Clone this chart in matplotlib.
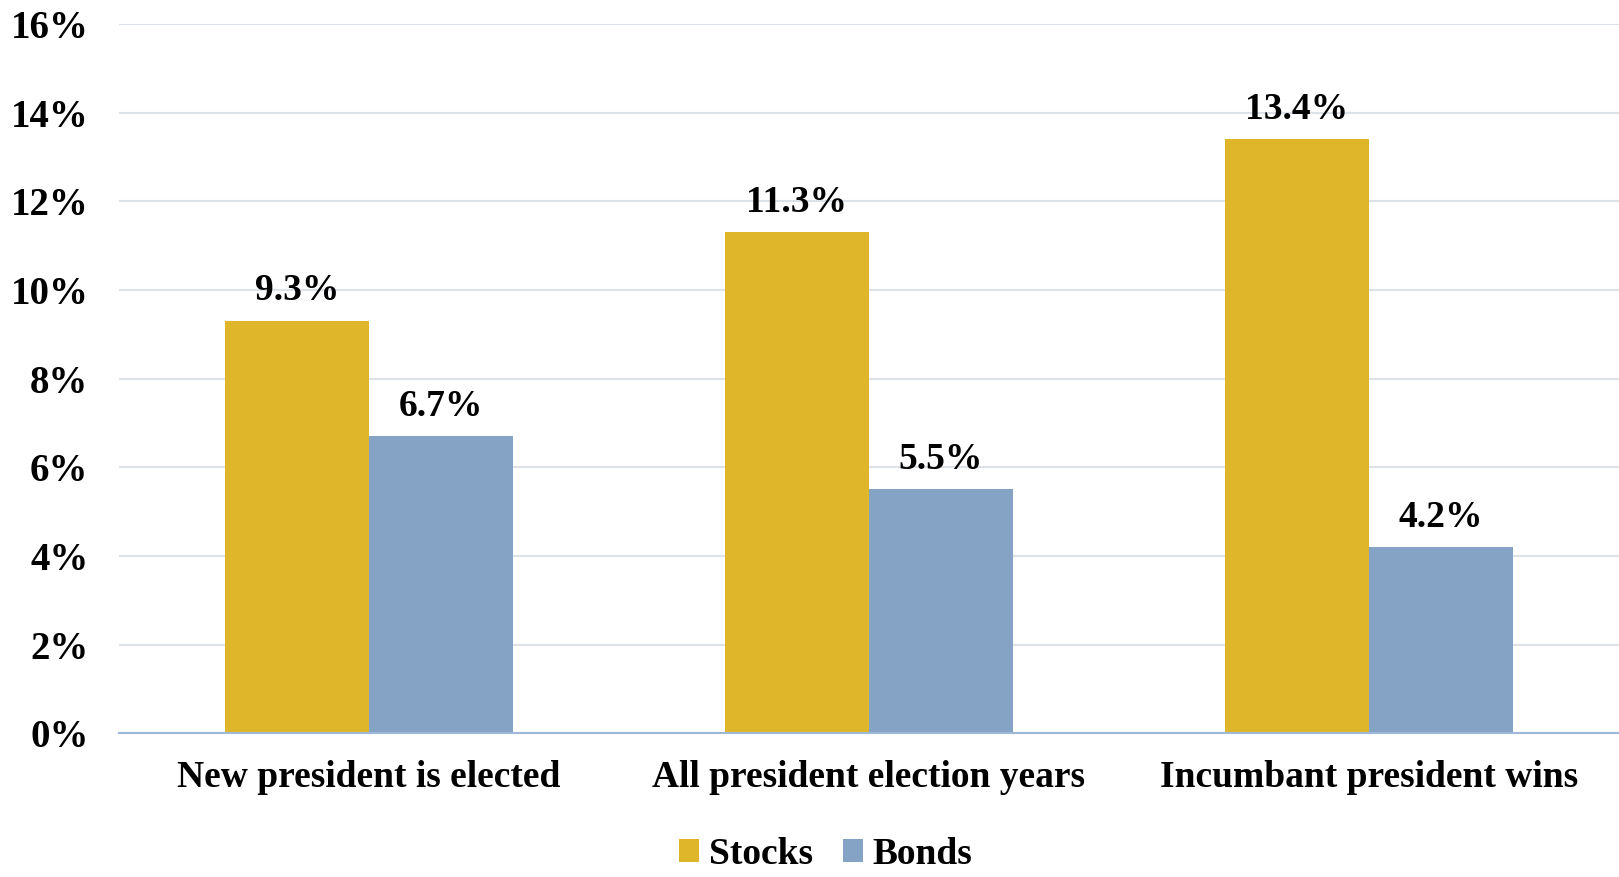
import matplotlib
matplotlib.use("Agg")
import matplotlib.pyplot as plt
import numpy as np
from matplotlib.ticker import FuncFormatter, MultipleLocator

categories = ["New president is elected", "All president election years", "Incumbant president wins"]
stocks = [9.3, 11.3, 13.4]
bonds = [6.7, 5.5, 4.2]
series_names = ["Stocks", "Bonds"]

plt.rcParams['font.family'] = ['Liberation Serif', 'DejaVu Serif']
plt.rcParams['font.weight'] = 'bold'

fig = plt.figure(figsize=(16.19, 8.77), dpi=100)
ax = fig.add_axes([0.0735, 0.164, 0.9265, 0.8086])

x = np.arange(len(categories))
w = 0.288
c_st = "#DFB62A"
c_bd = "#84A3C5"
b1 = ax.bar(x - w/2, stocks, w, color=c_st, label=series_names[0], zorder=3)
b2 = ax.bar(x + w/2, bonds, w, color=c_bd, label=series_names[1], zorder=3)

for bars, vals in ((b1, stocks), (b2, bonds)):
    for r, v in zip(bars, vals):
        ax.annotate(f"{v:.1f}%", (r.get_x() + r.get_width()/2, v), xytext=(0, 9),
                    textcoords="offset points", ha="center", va="bottom",
                    fontsize=27, fontweight="bold", zorder=4)

ax.set_xlim(-0.5, 2.5)
ax.set_ylim(0, 16)
ax.yaxis.set_major_locator(MultipleLocator(2))
ax.yaxis.set_major_formatter(FuncFormatter(lambda v, p: f"{v:.0f}%"))
ax.grid(axis="y", color="#DDE2E8", linewidth=1.5, zorder=0)
ax.set_axisbelow(True)
for s in ("left", "right", "top"):
    ax.spines[s].set_visible(False)
ax.spines["bottom"].set_color("#9DB9D9")
ax.spines["bottom"].set_linewidth(1.5)
ax.spines["bottom"].set_zorder(5)
ax.tick_params(axis="y", length=0, pad=22, labelsize=28)
ax.tick_params(axis="x", length=0, pad=19, labelsize=27)
ax.set_xticks(x)
ax.set_xticklabels(categories, fontweight="bold")
for t in ax.get_yticklabels():
    t.set_fontweight("bold")

leg = fig.legend(loc="center", bbox_to_anchor=(0.51, 0.026), ncol=2, frameon=False,
                 fontsize=27, handlelength=0.55, handleheight=0.55, handletextpad=0.25,
                 columnspacing=0.8, borderpad=0.1)
for t in leg.get_texts():
    t.set_fontweight("bold")

fig.savefig("out.png", dpi=100)
